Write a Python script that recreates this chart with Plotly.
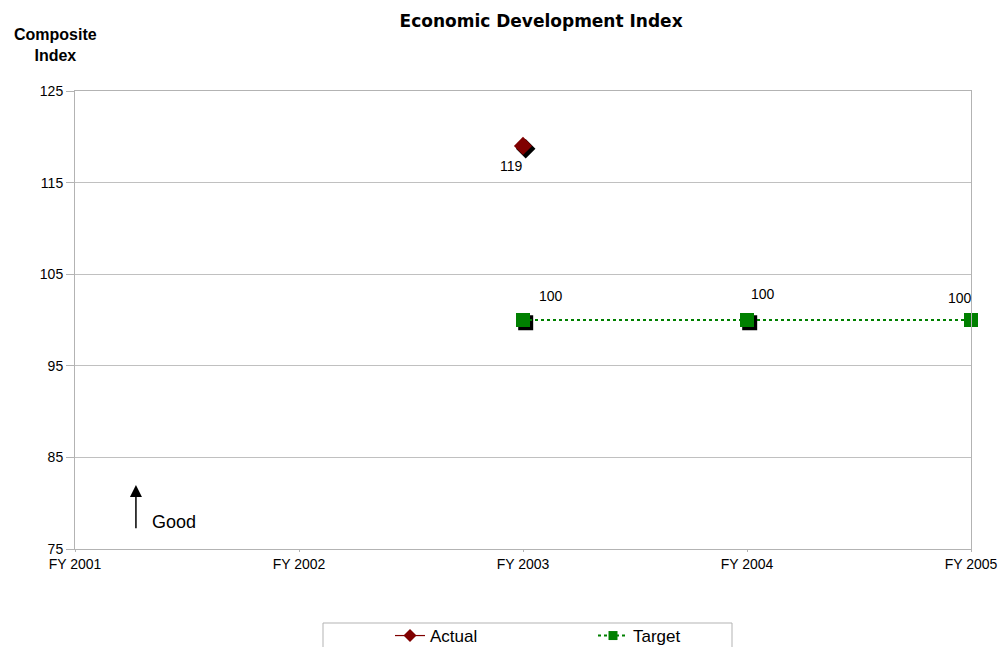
import plotly.graph_objects as go

# Fiscal years on the category axis
years = ["FY 2001", "FY 2002", "FY 2003", "FY 2004", "FY 2005"]

# Actual composite index (only FY 2003 reported)
actual_years = ["FY 2003"]
actual_values = [119]

# Target composite index
target_years = ["FY 2003", "FY 2004", "FY 2005"]
target_values = [100, 100, 100]

y_ticks = [75, 85, 95, 105, 115, 125]

pos = {y: i for i, y in enumerate(years)}
ax = [pos[y] for y in actual_years]
tx = [pos[y] for y in target_years]

ACTUAL_COLOR = "#800000"
TARGET_COLOR = "#008000"

# small drop shadow offset (data units)
sdx, sdy = 0.012, -0.3

fig = go.Figure()

# shadows
fig.add_trace(go.Scatter(x=[v + sdx for v in ax], y=[v + sdy for v in actual_values],
                         mode="markers", showlegend=False, hoverinfo="skip", cliponaxis=False,
                         marker=dict(symbol="diamond", size=15, color="black")))
fig.add_trace(go.Scatter(x=[v + sdx for v in tx], y=[v + sdy for v in target_values],
                         mode="markers", showlegend=False, hoverinfo="skip", cliponaxis=False,
                         marker=dict(symbol="square", size=15, color="black")))

fig.add_trace(go.Scatter(x=ax, y=actual_values, name="Actual", mode="lines+markers",
                         cliponaxis=False, showlegend=False, legendgroup="a",
                         line=dict(color=ACTUAL_COLOR, width=1.5),
                         marker=dict(symbol="diamond", size=14, color=ACTUAL_COLOR)))
fig.add_trace(go.Scatter(x=tx, y=target_values, name="Target", mode="lines+markers",
                         cliponaxis=False, showlegend=False, legendgroup="t",
                         line=dict(color=TARGET_COLOR, width=2, dash="dot"),
                         marker=dict(symbol="square", size=14, color=TARGET_COLOR)))

# legend keys with smaller symbols
fig.add_trace(go.Scatter(x=[None], y=[None], name="Actual", mode="lines+markers", legendgroup="a",
                         line=dict(color=ACTUAL_COLOR, width=1.2),
                         marker=dict(symbol="diamond", size=10, color=ACTUAL_COLOR)))
fig.add_trace(go.Scatter(x=[None], y=[None], name="Target", mode="lines+markers", legendgroup="t",
                         line=dict(color=TARGET_COLOR, width=2, dash="dot"),
                         marker=dict(symbol="square", size=9, color=TARGET_COLOR)))

# value labels
fig.add_annotation(x=ax[0], y=actual_values[0], text=str(actual_values[0]), showarrow=False,
                   xshift=-12, yshift=-20, font=dict(size=14, color="black"))
shifts = [(28, 24), (16, 26), (-11, 22)]
for x, v, (xs, ys) in zip(tx, target_values, shifts):
    fig.add_annotation(x=x, y=v, text=str(v), showarrow=False, xshift=xs, yshift=ys,
                       font=dict(size=14, color="black"))

# "Good" direction arrow
fig.add_annotation(x=0.272, y=82.0, ax=0.272, ay=77.1, xref="x", yref="y", axref="x", ayref="y",
                   text="", showarrow=True, arrowhead=2, arrowsize=1.6, arrowwidth=1.5,
                   arrowcolor="black")
fig.add_annotation(x=0.335, y=78.0, text="Good", showarrow=False, xanchor="left",
                   font=dict(size=18, color="black"))

# legend frame
fig.add_shape(type="rect", xref="paper", yref="paper",
              x0=(323 - 75) / 896, x1=(732 - 75) / 896,
              y0=(549 - 660) / 458, y1=(549 - 623) / 458,
              line=dict(color="#b3b3b3", width=1), fillcolor="rgba(0,0,0,0)", layer="above")

fig.update_layout(
    width=1002, height=647,
    margin=dict(l=75, r=31, t=91, b=98, autoexpand=False),
    paper_bgcolor="white", plot_bgcolor="white",
    font=dict(family="Liberation Sans, Arial, sans-serif", size=14, color="black"),
    title=dict(text="<b>Economic Development Index</b>", x=0.54, xanchor="center",
               y=0.967, yanchor="middle",
               font=dict(family="DejaVu Sans, sans-serif", size=17, color="black")),
    xaxis=dict(range=[0, 4], tickmode="array", tickvals=list(range(len(years))), ticktext=years,
               showgrid=False, showline=True, linecolor="#b3b3b3", mirror=True,
               ticks="outside", ticklen=2, tickcolor="#b3b3b3", zeroline=False,
               tickfont=dict(size=14)),
    yaxis=dict(range=[75, 125], tickvals=y_ticks, showgrid=True, gridcolor="#c0c0c0",
               showline=True, linecolor="#b3b3b3", mirror=True, zeroline=False,
               ticks="outside", ticklen=8, tickcolor="#b3b3b3", tickfont=dict(size=14)),
    legend=dict(orientation="h", x=(390 - 75) / 896, xanchor="left",
                y=(549 - 618) / 458, yanchor="top",
                borderwidth=0, entrywidth=158, bgcolor="rgba(0,0,0,0)",
                font=dict(size=17, color="black")),
    showlegend=True,
)

fig.add_annotation(x=(55 - 75) / 896, y=(549 - 45) / 458, xref="paper", yref="paper",
                   text="<b>Composite<br>Index</b>", showarrow=False, align="center",
                   xanchor="center", yanchor="middle", font=dict(size=16, color="black"))

fig.write_html("out.html")
